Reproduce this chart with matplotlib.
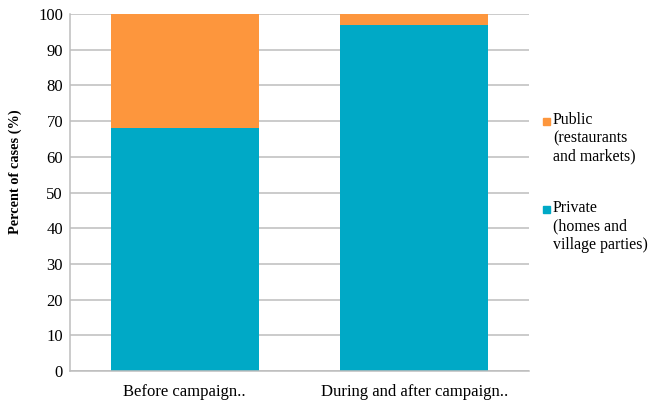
import matplotlib.pyplot as plt
from matplotlib.patches import Rectangle

categories = ['Before campaign..', 'During and after campaign..']
private = [68, 97]
public = [32, 3]
yticks = list(range(0, 101, 10))

blue = '#00A9C6'
orange = '#FD963D'

plt.rcParams['font.family'] = 'Liberation Serif'

fig = plt.figure(figsize=(6.51, 4.07), dpi=100)
ax = fig.add_axes([70 / 651, 1 - 371 / 407, 459 / 651, 357 / 407])

x = range(len(categories))
ax.bar(x, private, width=0.645, color=blue, zorder=2)
ax.bar(x, public, width=0.645, bottom=private, color=orange, zorder=2)

ax.set_xlim(-0.5, 1.5)
ax.set_ylim(0, 100)
ax.set_yticks(yticks)
ax.set_xticks(list(x))
ax.set_xticklabels(categories, fontsize=12)
ax.tick_params(axis='y', labelsize=12, length=0, pad=5)
ax.tick_params(axis='x', length=0, pad=9)
ax.yaxis.grid(True, color='#BDBDBD', linewidth=1.1, zorder=0)
for side in ['top', 'right']:
    ax.spines[side].set_visible(False)
for side in ['left', 'bottom']:
    ax.spines[side].set_color('#BDBDBD')
    ax.spines[side].set_linewidth(1.1)

fig.text(15 / 651, 1 - 172 / 407, 'Percent of cases (%)', rotation=90,
         fontsize=10.3, fontweight='bold', ha='center', va='center')

# legend drawn by hand so the square sits by the first line
legend_items = [
    (orange, 'Public\n(restaurants\nand markets)', 121),
    (blue, 'Private\n(homes and\nvillage parties)', 209),
]
for color, label, ypix in legend_items:
    fig.patches.append(Rectangle((543 / 651, 1 - (ypix + 3.5) / 407), 7 / 651, 7 / 407,
                                 transform=fig.transFigure, color=color))
    fig.text(553 / 651, 1 - (ypix - 9) / 407, label, fontsize=11.4, va='top', ha='left',
             linespacing=1.2)

fig.savefig('out.png', dpi=100)
